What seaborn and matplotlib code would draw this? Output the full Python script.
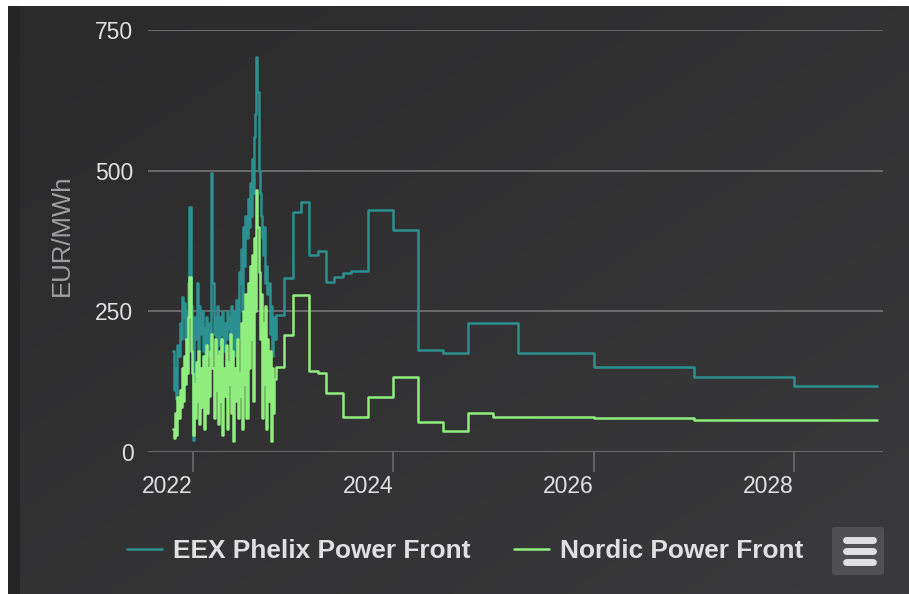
import numpy as np
import pandas as pd
import matplotlib
matplotlib.use("Agg")
import matplotlib.pyplot as plt
import matplotlib.dates as mdates
from matplotlib.colors import LinearSegmentedColormap
from matplotlib.patches import Rectangle, FancyBboxPatch
from matplotlib.lines import Line2D
import seaborn as sns

# daily-ish front prices (every 4 days from 2021-10-21), EUR/MWh
spot_start = "2021-10-21"
eex_spot = [180, 110, 150, 95, 190, 170, 230, 200, 275, 240, 265, 200, 250, 180,
            300, 435, 260, 180, 22, 240, 200, 230, 300, 180, 260, 210,
            250, 180, 220, 160, 240, 200, 170, 230, 190, 496,
            300, 210, 240, 170, 260, 220, 190, 240, 210, 250, 180, 230, 200, 250, 220,
            240, 200, 260, 180, 250, 170, 270, 230, 200, 320,
            300, 360, 250, 400, 330, 420, 380, 450, 400, 478,
            420, 520, 460, 560, 600, 702, 640,
            500, 460, 420, 380, 350, 400, 300, 330, 280, 300, 210, 260, 170, 240, 200]
nordic_spot = [40, 25, 70, 30, 98, 60, 110, 80, 150, 90, 170, 120, 200, 140,
               240, 311, 180, 140, 30, 120, 60, 160, 90, 180, 50, 150,
               80, 170, 40, 130, 190, 70, 150, 100, 180, 210,
               150, 60, 200, 110, 170, 50, 180, 90, 200, 30, 150, 100, 190, 40, 160,
               120, 210, 70, 180, 20, 150, 90, 200, 60, 140,
               100, 230, 40, 250, 120, 280, 60, 300, 150, 330,
               200, 350, 90, 380, 250, 465, 400,
               320, 200, 280, 60, 230, 120, 260, 40, 200, 90, 180, 20, 150, 70, 130]

# forward curve products (start date of each delivery period)
eex_fwd_dates = ["2022-11-01", "2022-12-01", "2023-01-01", "2023-02-01", "2023-03-01",
                 "2023-04-01", "2023-05-01", "2023-06-01", "2023-07-01", "2023-08-01",
                 "2023-10-01", "2024-01-01", "2024-04-01", "2024-07-01", "2024-10-01",
                 "2025-04-01", "2026-01-01", "2027-01-01", "2028-01-01", "2028-10-31"]
eex_fwd = [243, 309, 426, 444, 350, 357, 302, 311, 318, 322,
           430, 394, 181, 176, 229, 176, 151, 133, 117, 117]
nordic_fwd_dates = ["2022-11-01", "2022-12-01", "2023-01-01", "2023-03-01", "2023-04-01",
                    "2023-05-01", "2023-07-01", "2023-10-01", "2024-01-01", "2024-04-01",
                    "2024-07-01", "2024-10-01", "2025-01-01", "2026-01-01", "2027-01-01",
                    "2028-01-01", "2028-10-31"]
nordic_fwd = [151, 208, 279, 144, 140, 105, 62, 98, 133, 53, 37, 69, 62, 61, 57, 57, 57]

series_names = ["EEX Phelix Power Front", "Nordic Power Front"]
colors = ["#2b908f", "#90ee7e"]

spot_dates = pd.date_range(spot_start, periods=len(eex_spot), freq="4D")
df = pd.concat([
    pd.DataFrame({"date": list(spot_dates) + list(pd.to_datetime(eex_fwd_dates)),
                  "price": eex_spot + eex_fwd, "series": series_names[0]}),
    pd.DataFrame({"date": list(spot_dates) + list(pd.to_datetime(nordic_fwd_dates)),
                  "price": nordic_spot + nordic_fwd, "series": series_names[1]}),
])

sns.set_style("dark")
plt.rcParams['font.family'] = ['Liberation Sans', 'DejaVu Sans']

W, H = 909, 594
fig = plt.figure(figsize=(W / 100, H / 100), dpi=100)

# background gradient (dark unica look)
bg = fig.add_axes([0, 0, 1, 1], zorder=-10)
gx, gy = np.meshgrid(np.linspace(0, 1, 200), np.linspace(0, 1, 200))
cmap = LinearSegmentedColormap.from_list("bg", ["#2a2a2b", "#3a3a3c"])
bg.imshow((gx + gy) / 2, cmap=cmap, aspect="auto", extent=[0, 1, 0, 1], origin="upper")
bg.set_xlim(0, 1)
bg.set_ylim(0, 1)
bg.axis("off")
# screenshot edges
bg.add_patch(Rectangle((8 / W, 0), 12 / W, 1, color="#252526", lw=0))
bg.add_patch(Rectangle((0, 0), 8 / W, 1, color="white", lw=0))
bg.add_patch(Rectangle((0, 1 - 6 / H), 1, 6 / H, color="white", lw=0))

ax = fig.add_axes([148 / W, (H - 452) / H, 735 / W, 422 / H])
ax.set_facecolor("none")

sns.lineplot(data=df, x="date", y="price", hue="series", hue_order=series_names,
             palette=colors, drawstyle="steps-post", linewidth=1.8,
             estimator=None, ax=ax)

ax.set_ylim(0, 750)
ax.set_yticks([0, 250, 500, 750])
ax.set_xlim(pd.Timestamp("2021-07-22"), pd.Timestamp("2028-11-21"))
ax.xaxis.set_major_locator(mdates.YearLocator(2))
ax.xaxis.set_major_formatter(mdates.DateFormatter("%Y"))
ax.set_xlabel("")
ax.set_ylabel("")
for s in ax.spines.values():
    s.set_visible(False)
ax.grid(axis="y", color="#707073", lw=1.3)
ax.grid(axis="x", visible=False)
ax.set_axisbelow(True)
ax.tick_params(axis="x", colors="#707073", labelcolor="#E0E0E3", length=14.4,
               width=1.1, direction="out", labelsize=16.5, pad=2, bottom=True)
ax.tick_params(axis="y", length=0, labelcolor="#E0E0E3", labelsize=16.5, pad=10.5)
for lbl in ax.get_xticklabels():
    lbl.set_horizontalalignment("right")

fig.text(62 / W, 1 - 235 / H, "EUR/MWh", rotation=90, ha="center", va="center",
         color="#A0A0A3", fontsize=18.5)

sns.move_legend(ax, "center", bbox_to_anchor=(465 / W, 1 - 551 / H),
                bbox_transform=fig.transFigure, ncol=2, frameon=False, title=None,
                prop={"weight": "bold", "size": 18.9}, labelcolor="#E0E0E3",
                handlelength=1.33, handletextpad=0.42, columnspacing=1.65)

# export menu button
fig.add_artist(FancyBboxPatch((832 / W, 1 - 575 / H), 52 / W, 48 / H,
                              boxstyle="round,pad=0,rounding_size=0.004",
                              transform=fig.transFigure, color="#505053", lw=0))
for yy in (540, 551, 562):
    fig.add_artist(Line2D([846 / W, 873 / W], [1 - yy / H, 1 - yy / H],
                          transform=fig.transFigure, color="#E0E0E3", lw=5,
                          solid_capstyle="round"))

fig.savefig("out.png", dpi=100)
